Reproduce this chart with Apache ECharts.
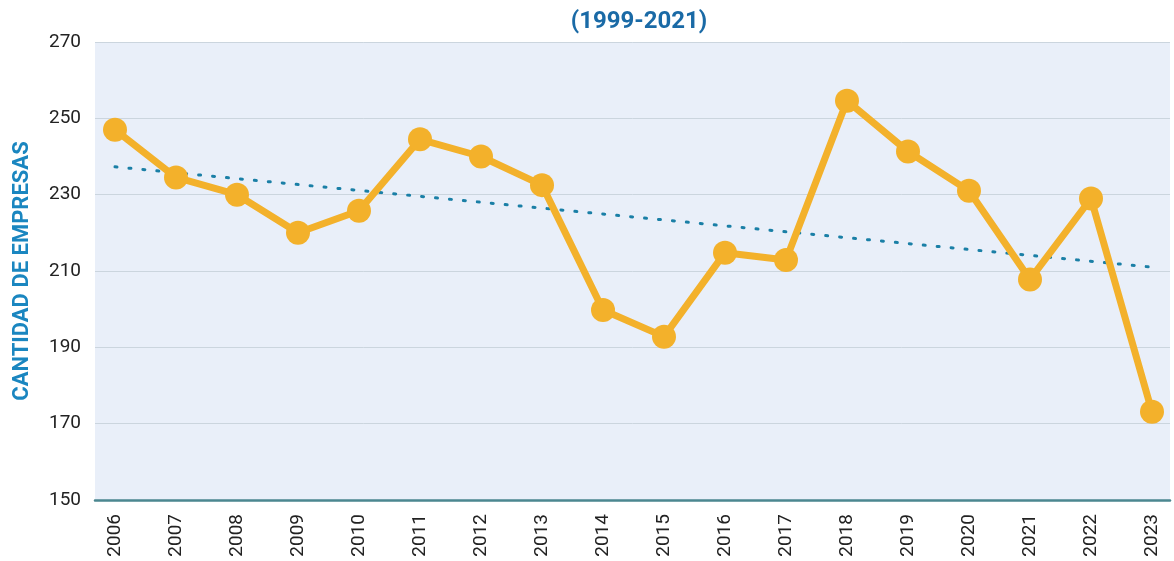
<!DOCTYPE html>
<html>
<head>
<meta charset="utf-8">
<script src="https://cdn.jsdelivr.net/npm/echarts@6/dist/echarts.min.js"></script>
<style>
  html, body { margin: 0; padding: 0; background: #fff; }
  #chart { width: 1174px; height: 561px; }
</style>
</head>
<body>
<div id="chart"></div>
<script>
  // years on the x axis
  var years = ['2006', '2007', '2008', '2009', '2010', '2011', '2012', '2013', '2014',
    '2015', '2016', '2017', '2018', '2019', '2020', '2021', '2022', '2023']
  // cantidad de empresas
  var empresas = [247, 234.5, 230, 220, 225.8, 244.5, 240, 232.5, 199.8, 192.8,
    214.8, 212.9, 254.6, 241.3, 231, 207.8, 229, 173.1]
  // dotted trend line, only its two ends
  var trendStart = 237.3
  var trendEnd = 211
  var yTicks = [150, 170, 190, 210, 230, 250, 270]

  var trend = years.map(function (y, i) {
    if (i === 0) return trendStart
    if (i === years.length - 1) return trendEnd
    return null
  })

  var font = 'Roboto, "Noto Sans", sans-serif'
  var chart = echarts.init(document.getElementById('chart'))
  chart.setOption({
    animation: false,
    title: {
      text: '(1999-2021)',
      left: 634,
      textAlign: 'center',
      top: 5,
      textStyle: { color: '#1a6aa6', fontFamily: font, fontWeight: 'bold', fontSize: 24 }
    },
    grid: [
      {
        // plot background and y axis
        left: 95, right: 4, top: 42, bottom: 61,
        outerBoundsMode: 'none',
        show: true, backgroundColor: '#e9eff9', borderWidth: 0
      },
      {
        // data grid, categories inset a little
        left: 115, right: 22, top: 42, bottom: 61,
        outerBoundsMode: 'none'
      }
    ],
    xAxis: [
      {
        gridIndex: 0, type: 'value', min: 0, max: 1,
        axisLine: { show: true, onZero: false, lineStyle: { color: '#4b8790', width: 2.5 } },
        axisTick: { show: false }, axisLabel: { show: false }, splitLine: { show: false }
      },
      {
        gridIndex: 1, type: 'category', data: years, boundaryGap: false,
        axisLine: { show: false }, axisTick: { show: false },
        axisLabel: {
          rotate: 90, margin: 14, color: '#222',
          fontFamily: font, fontSize: 19
        }
      }
    ],
    yAxis: [
      {
        gridIndex: 0, type: 'value',
        min: yTicks[0], max: yTicks[yTicks.length - 1], interval: 20,
        name: 'CANTIDAD DE EMPRESAS',
        nameLocation: 'middle', nameGap: 62, nameRotate: 90,
        nameTextStyle: { color: '#1a86c0', fontFamily: font, fontWeight: 'bold', fontSize: 22 },
        axisLine: { show: false }, axisTick: { show: false },
        axisLabel: { color: '#222', fontFamily: font, fontSize: 19, margin: 14 },
        splitLine: { lineStyle: { color: '#cbd5de', width: 1 } }
      },
      {
        gridIndex: 1, type: 'value',
        min: yTicks[0], max: yTicks[yTicks.length - 1], interval: 20,
        show: false, splitLine: { show: false }
      }
    ],
    series: [
      {
        name: 'Tendencia',
        type: 'line',
        xAxisIndex: 1, yAxisIndex: 1,
        data: trend,
        connectNulls: true,
        symbol: 'none',
        z: 3,
        lineStyle: { color: '#1a7fa6', width: 3, type: [2, 12], cap: 'round' }
      },
      {
        name: 'Empresas',
        type: 'line',
        xAxisIndex: 1, yAxisIndex: 1,
        data: empresas,
        symbol: 'circle',
        symbolSize: 24,
        z: 4,
        itemStyle: { color: '#f3b12b' },
        lineStyle: { color: '#f3b12b', width: 7 }
      }
    ]
  })
</script>
</body>
</html>
